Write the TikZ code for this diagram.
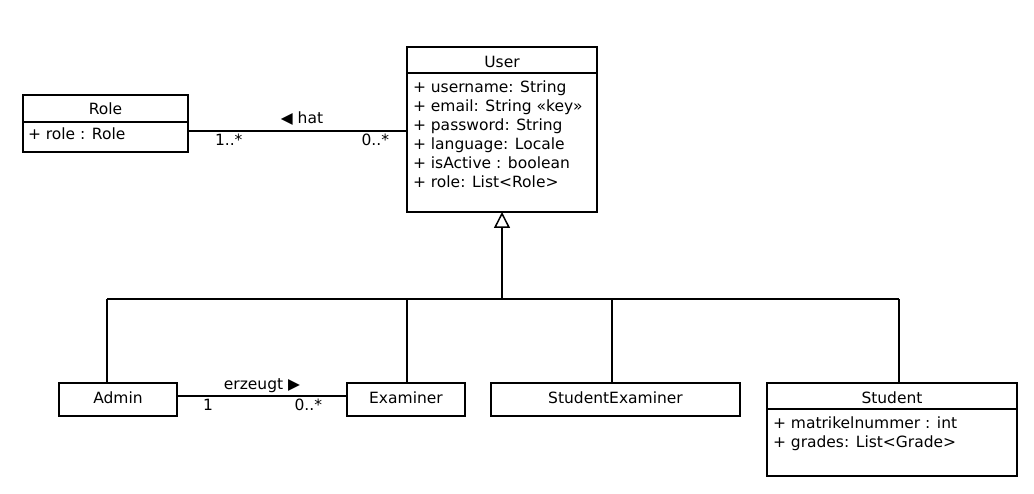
\documentclass[tikz,border=0pt]{standalone}
\usepackage{fontspec}
\setmainfont{DejaVu Sans}
\usetikzlibrary{arrows.meta}
\begin{document}
\begin{tikzpicture}[x=1pt,y=-1pt,
  every node/.style={font=\fontsize{15.5}{19}\selectfont, inner sep=0pt, outer sep=0pt},
  cls/.style={draw, line width=1.5pt, anchor=north west, minimum width=#1},
  ln/.style={line width=1.5pt},
  title/.style={anchor=base},
  attr/.style={anchor=base west},
  gen/.style={ln, -{Triangle[open, length=16pt, width=16pt, line width=1.5pt]}}
]
\useasboundingbox (0,0) rectangle (1034,494);

% ---- classes ----
\node[cls=165pt, minimum height=57pt] (role) at (23,95) {};
\draw[ln] (role.west |- 0,122) -- (role.east |- 0,122);
\node[title] (roleT) at (105.5,115) {Role};
\node[attr] (roleA) at (28,140) {+ role : Role};

\node[cls=190pt, minimum height=165pt] (user) at (407,47) {};
\draw[ln] (user.west |- 0,73) -- (user.east |- 0,73);
\node[title] (userT) at (502,68) {User};
\node[attr] (u1) at (413,93) {+ username: String};
\node[attr] (u2) at (413,111.9) {+ email: String «key»};
\node[attr] (u3) at (413,130.8) {+ password: String};
\node[attr] (u4) at (413,149.7) {+ language: Locale};
\node[attr] (u5) at (413,168.6) {+ isActive : boolean};
\node[attr] (u6) at (413,187.5) {+ role: List<Role>};

\node[cls=118pt, minimum height=33pt] (admin) at (59,383) {};
\node[title] (adminT) at (118,403) {Admin};

\node[cls=118pt, minimum height=33pt] (examiner) at (347,383) {};
\node[title] (examinerT) at (406,403) {Examiner};

\node[cls=249pt, minimum height=33pt] (sexam) at (491,383) {};
\node[title] (sexamT) at (615.5,403) {StudentExaminer};

\node[cls=250pt, minimum height=93pt] (student) at (767,383) {};
\draw[ln] (student.west |- 0,409) -- (student.east |- 0,409);
\node[title] (studentT) at (892,403) {Student};
\node[attr] (s1) at (773,428.3) {+ matrikelnummer : int};
\node[attr] (s2) at (773,447.2) {+ grades: List<Grade>};

% ---- association Role -- User ----
\draw[ln] (role.east |- 0,131) -- (user.west |- 0,131);
\node[title] (hat) at (302,124) {◀ hat};
\node[attr] (m1) at (215,146) {1..*};
\node[anchor=base east] (m2) at (389,146) {0..*};

% ---- association Admin -- Examiner ----
\draw[ln] (admin.east |- 0,396) -- (examiner.west |- 0,396);
\node[title] (erz) at (262,389) {erzeugt ▶};
\node[attr] (m3) at (203,410) {1};
\node[anchor=base east] (m4) at (322,410) {0..*};

% ---- generalization ----
\coordinate (gJ) at (502,299);
\coordinate (hA) at (107,299);
\coordinate (hE) at (407,299);
\coordinate (hX) at (612,299);
\coordinate (hS) at (899,299);
\draw[gen] (gJ) -- (user.south);
\draw[ln] (hA) -- (hS);
\draw[ln] (hA) -- (hA |- admin.north);
\draw[ln] (hE) -- (hE |- examiner.north);
\draw[ln] (hX) -- (hX |- sexam.north);
\draw[ln] (hS) -- (hS |- student.north);
\end{tikzpicture}
\end{document}
